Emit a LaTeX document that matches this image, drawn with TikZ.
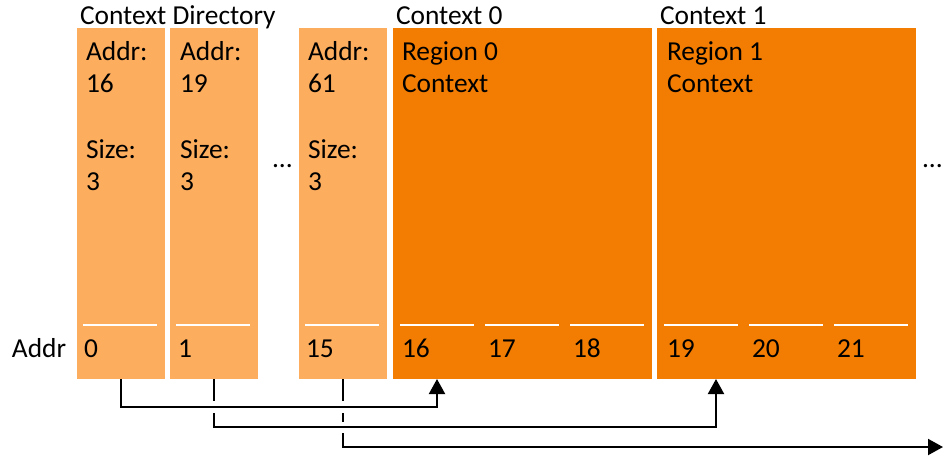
\documentclass[tikz,border=0pt]{standalone}
\usepackage{fontspec}
\setmainfont{Carlito}
\usetikzlibrary{arrows.meta}
\definecolor{dirorange}{RGB}{252,173,94}
\definecolor{ctxorange}{RGB}{243,124,2}
\begin{document}
\begin{tikzpicture}[x=1pt,y=-1pt,
  every node/.style={inner sep=0pt, outer sep=0pt, font=\fontsize{27.4}{32}\selectfont},
  dirbox/.style={fill=dirorange, draw=none, anchor=north west, minimum width=88pt, minimum height=351pt},
  ctxbox/.style={fill=ctxorange, draw=none, anchor=north west, minimum width=259pt, minimum height=351pt},
  txt/.style={anchor=base west},
  cellrule/.style={white, line width=2pt},
  conn/.style={line width=2pt, black},
  arr/.style={conn, -{Triangle[width=16pt,length=15pt]}}
]
\useasboundingbox (0,0) rectangle (943,456);

% directory entries and region contexts
\node[dirbox] (d0) at (77,28) {};
\node[dirbox] (d1) at (170,28) {};
\node[dirbox] (d2) at (299,28) {};
\node[ctxbox] (k0) at (393,28) {};
\node[ctxbox] (k1) at (657,28) {};

% headings
\node[txt] (hdir) at (80,24) {Context Directory};
\node[txt] (hk0) at (396,24) {Context 0};
\node[txt] (hk1) at (660,24) {Context 1};

% directory entry contents
\foreach \n/\x/\a in {0/86/16, 1/180/19, 2/308/61}{
  \node[txt] (da\n) at (\x,60) {Addr:};
  \node[txt] (dv\n) at (\x,92) {\a};
  \node[txt] (ds\n) at (\x,158) {Size:};
  \node[txt] (dn\n) at (\x,190) {3};
}

% region context contents
\node[txt] (r0a) at (402,60) {Region 0};
\node[txt] (r0b) at (402,92) {Context};
\node[txt] (r1a) at (667,60) {Region 1};
\node[txt] (r1b) at (667,92) {Context};

% ellipses
\node[txt] (dots1) at (272,167) {...};
\node[txt] (dots2) at (922,167) {...};

% cell separators
\foreach \x in {83,176,305,400,485,570,664,749,834}{
  \draw[cellrule] (\x,325) -- ++(74,0);
}

% addresses
\node[txt] (addr) at (12,357) {Addr};
\foreach \x/\v in {84/0, 178/1, 306/15, 402/16, 488/17, 573/18, 667/19, 752/20, 837/21}{
  \node[txt] (a\v) at (\x,357) {\v};
}

% pointers from directory entries to contexts
\coordinate (t0) at (437,379);
\coordinate (t1) at (716,379);
\coordinate (t2) at (943,447);

\draw[arr] (d0.south) -- ++(0,28) -| (t0);

\draw[conn] (d1.south) -- ++(0,22);
\draw[arr] ([yshift=-34pt]d1.south) -- ++(0,14) -| (t1);

\draw[conn] (d2.south) -- ++(0,22);
\draw[conn] ([yshift=-34pt]d2.south) -- ++(0,9);
\draw[arr] ([yshift=-54pt]d2.south) -- ++(0,14) -- (t2);
\end{tikzpicture}
\end{document}
